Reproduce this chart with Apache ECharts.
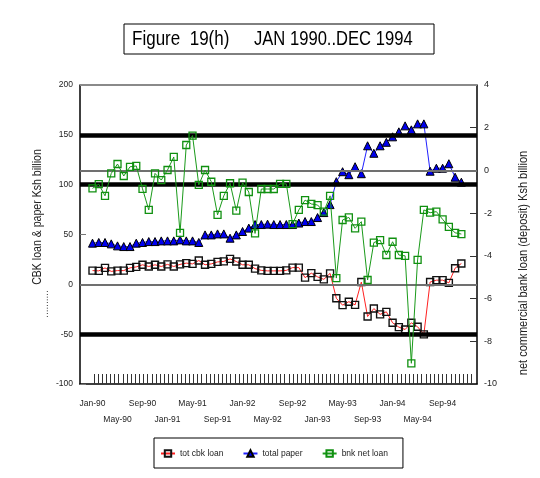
<!DOCTYPE html>
<html><head><meta charset="utf-8">
<script src="https://cdn.jsdelivr.net/npm/echarts@6/dist/echarts.min.js"></script>
<style>html,body{margin:0;padding:0;background:#fff}#c{width:540px;height:478px}</style>
</head><body><div id="c"></div><script>
const months = ['Jan-90','Feb-90','Mar-90','Apr-90','May-90','Jun-90','Jul-90','Aug-90','Sep-90','Oct-90','Nov-90','Dec-90',
'Jan-91','Feb-91','Mar-91','Apr-91','May-91','Jun-91','Jul-91','Aug-91','Sep-91','Oct-91','Nov-91','Dec-91',
'Jan-92','Feb-92','Mar-92','Apr-92','May-92','Jun-92','Jul-92','Aug-92','Sep-92','Oct-92','Nov-92','Dec-92',
'Jan-93','Feb-93','Mar-93','Apr-93','May-93','Jun-93','Jul-93','Aug-93','Sep-93','Oct-93','Nov-93','Dec-93',
'Jan-94','Feb-94','Mar-94','Apr-94','May-94','Jun-94','Jul-94','Aug-94','Sep-94','Oct-94','Nov-94','Dec-94'];
// left axis (Ksh billion)
const totCbkLoan = [13.8,13.5,16.5,13,13.8,13.8,16.5,17.5,19.6,17.9,19.6,17.9,
20,17.9,20,21.3,20.5,23.9,19.6,20.5,22.5,23,25.5,22.9,
19.6,19.6,15.8,14,13.5,13.5,13.5,14,16.8,16.8,6.7,11.2,
7.5,5,11,-14,-20.9,-17.4,-20.6,2.3,-32.3,-24.3,-30.1,-27.6,
-38.6,-42.9,-45.3,-38.6,-42.6,-50.2,2.3,4.2,4.2,1.5,16.2,20.9];
const totalPaper = [41.3,42,42,40.6,38.6,37.9,37.9,41.3,42,42.9,42.9,43.6,
43.6,43.6,44.6,43.6,43.6,42,49.6,49.6,50.6,50.6,46.3,49.6,
53,56.4,60,60,60.4,60,60,60,60,61.5,63,63,
67,72,80,103,113,110,118,111,139,131.5,139,142.5,
148,153,159,155,161,161,113.5,116.5,116.5,121,107.5,102.5];
// right axis (Ksh billion)
const bnkNetLoan = [-0.84,-0.64,-1.19,-0.14,0.30,-0.26,0.17,0.21,-0.86,-1.85,-0.14,-0.45,
0.02,0.63,-2.92,1.19,1.63,-0.68,0.02,-0.53,-2.08,-1.19,-0.60,-1.88,
-0.57,-1.01,-2.95,-0.87,-0.87,-0.87,-0.63,-0.63,-2.51,-1.85,-1.39,-1.57,
-1.62,-1.93,-1.19,-5.04,-2.32,-2.20,-2.71,-2.40,-5.13,-3.38,-3.26,-3.96,
-3.34,-3.96,-4.00,-9.03,-4.19,-1.85,-1.98,-1.93,-2.29,-2.64,-2.92,-2.98];
const leftTicks = [-100,-50,0,50,100,150,200];
const rightTicks = [-10,-8,-6,-4,-2,0,2,4];
const seriesNames = ['tot cbk loan','total paper','bnk net loan'];

const FONT = "'Liberation Sans',Arial,sans-serif";
const row1Idx = months.map((m,i)=>i).filter(i=>i%8===0);
const row2Idx = months.map((m,i)=>i).filter(i=>i%8===4);
const tickVals = [];
for (let t = 0.2; t < 61.2; t += 0.664) tickVals.push(t);

const chart = echarts.init(document.getElementById('c'), null, {renderer:'canvas'});
const pair = arr => arr.map((v,i)=>[i,v]);
const xLabel = (idx, margin) => ({customValues:idx,showMinLabel:true,showMaxLabel:true,hideOverlap:false,margin:margin,
  fontFamily:FONT,fontSize:8.5,color:'#222',formatter:v=>months[Math.round(v)]});
chart.setOption({
  backgroundColor:'#fff',
  animation:false,
  grid:{left:80,right:63,top:85,bottom:94},
  xAxis:[
   {type:'value',min:-2,max:61.5,position:'bottom',
    axisLine:{onZero:false,lineStyle:{color:'#000',width:1.5}},
    splitLine:{show:false},
    axisTick:{inside:true,length:10,customValues:tickVals,lineStyle:{color:'#333',width:1}},
    axisLabel:xLabel(row1Idx,15)},
   {type:'value',min:-2,max:61.5,position:'bottom',
    axisLine:{show:false,onZero:false},splitLine:{show:false},axisTick:{show:false},
    axisLabel:xLabel(row2Idx,31)}
  ],
  yAxis:[
    {type:'value',min:leftTicks[0],max:leftTicks[leftTicks.length-1],interval:50,position:'left',
     axisLine:{show:true,onZero:false,lineStyle:{color:'#000',width:1.5}},
     axisTick:{show:true,inside:true,length:6,lineStyle:{color:'#777'}},
     splitLine:{show:false},
     axisLabel:{margin:7,fontFamily:FONT,fontSize:8.5,color:'#222'}},
    {type:'value',min:rightTicks[0],max:rightTicks[rightTicks.length-1],interval:2,position:'right',
     axisLine:{show:true,onZero:false,lineStyle:{color:'#000',width:1.5}},
     axisTick:{show:true,inside:true,length:7,lineStyle:{color:'#333'}},
     splitLine:{show:false},
     axisLabel:{margin:7,fontFamily:FONT,fontSize:9,color:'#222'}}
  ],
  legend:{data:seriesNames,left:154,top:438,orient:'horizontal',
    borderColor:'#000',borderWidth:1,padding:[11,15,10,6],itemGap:19,itemWidth:14,itemHeight:8,
    textStyle:{fontFamily:FONT,fontSize:8.5,color:'#222'}},
  graphic:[
    {type:'rect',shape:{x:124,y:24,width:310,height:30},style:{fill:'#fff',stroke:'#000',lineWidth:1}},
    {type:'text',x:132,y:39,scaleX:0.81,style:{text:'Figure  19(h)',font:"21px "+FONT,fill:'#000',verticalAlign:'middle'}},
    {type:'text',x:254,y:39,scaleX:0.79,style:{text:'JAN 1990..DEC 1994',font:"21px "+FONT,fill:'#000',verticalAlign:'middle'}},
    {type:'text',x:38,y:217,rotation:Math.PI/2,scaleX:0.88,style:{text:'CBK loan & paper Ksh billion',font:"12px "+FONT,fill:'#222',align:'center',verticalAlign:'middle'}},
    {type:'text',x:45,y:304,rotation:Math.PI/2,style:{text:'..........',font:"10px "+FONT,fill:'#222',align:'center',verticalAlign:'middle'}},
    {type:'text',x:524,y:263,rotation:Math.PI/2,scaleX:0.88,style:{text:'net commercial bank loan (deposit) Ksh billion',font:"12.5px "+FONT,fill:'#222',align:'center',verticalAlign:'middle'}}
  ],
  series:[
    {type:'line',name:'_ref',yAxisIndex:0,data:[],silent:true,z:1,
     markLine:{silent:true,symbol:'none',label:{show:false},animation:false,
       data:[
        {yAxis:150,lineStyle:{color:'#000',width:4.5,type:'solid'}},
        {yAxis:100,lineStyle:{color:'#000',width:4.5,type:'solid'}},
        {yAxis:-50,lineStyle:{color:'#000',width:4.5,type:'solid'}},
        {yAxis:0,lineStyle:{color:'#707070',width:1.8,type:'solid'}},
        {yAxis:200,lineStyle:{color:'#8a8a8a',width:2,type:'solid'}}
       ]}},
    {type:'line',name:'_ref2',yAxisIndex:1,data:[],silent:true,z:1,
     markLine:{silent:true,symbol:'none',label:{show:false},animation:false,
       data:[{yAxis:0,lineStyle:{color:'#707070',width:1.8,type:'solid'}}]}},
    {type:'line',name:seriesNames[0],yAxisIndex:0,data:pair(totCbkLoan),z:3,
     symbol:'rect',symbolSize:7,showAllSymbol:true,
     lineStyle:{color:'#ff2020',width:1},
     itemStyle:{color:'rgba(255,255,255,0)',borderColor:'#111',borderWidth:1.4}},
    {type:'line',name:seriesNames[1],yAxisIndex:0,data:pair(totalPaper),z:4,
     symbol:'triangle',symbolSize:[8,8],showAllSymbol:true,
     lineStyle:{color:'#2020ff',width:1},
     itemStyle:{color:'#0000ee',borderColor:'#000',borderWidth:1}},
    {type:'line',name:seriesNames[2],yAxisIndex:1,data:pair(bnkNetLoan),z:5,
     symbol:'rect',symbolSize:7,showAllSymbol:true,
     lineStyle:{color:'#1a9a1a',width:1},
     itemStyle:{color:'rgba(255,255,255,0)',borderColor:'#109010',borderWidth:1.3}}
  ]
});
</script></body></html>
